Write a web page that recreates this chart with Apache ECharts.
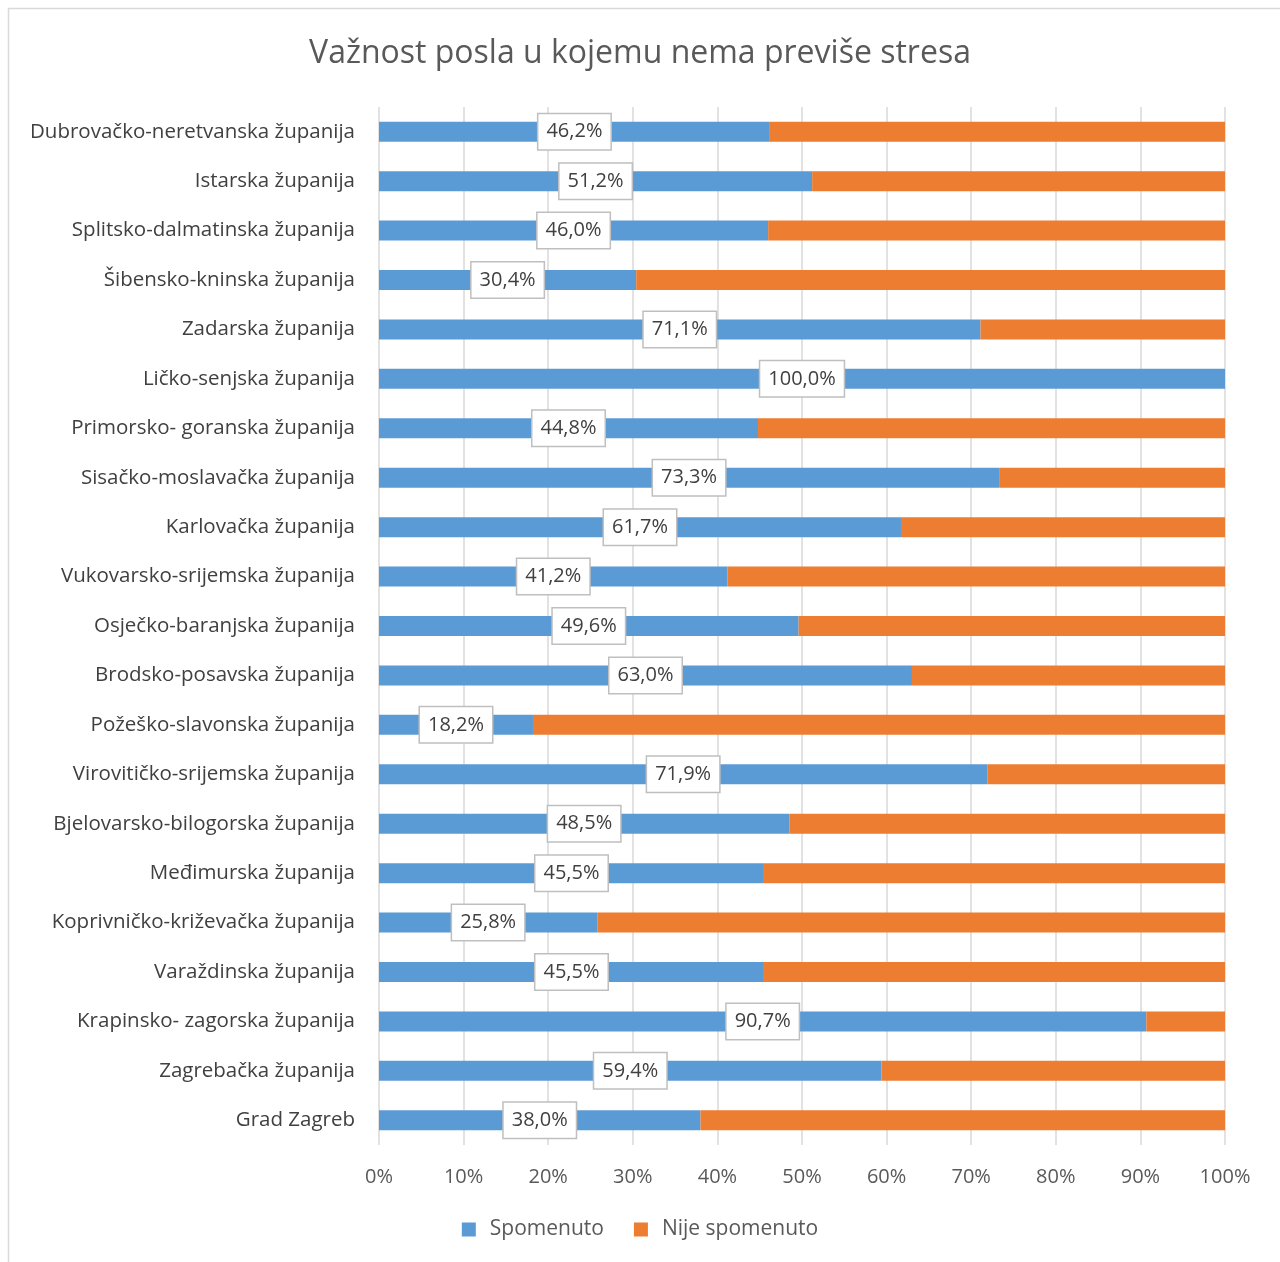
<!DOCTYPE html>
<html><head><meta charset="utf-8">
<script src="https://cdn.jsdelivr.net/npm/echarts@6/dist/echarts.min.js"></script>
<style>html,body{margin:0;padding:0;background:#fff}#c{width:1280px;height:1262px}</style>
</head><body><div id="c"></div>
<script>
const categories = [
  "Dubrovačko-neretvanska županija","Istarska županija","Splitsko-dalmatinska županija",
  "Šibensko-kninska županija","Zadarska županija","Ličko-senjska županija",
  "Primorsko- goranska županija","Sisačko-moslavačka županija","Karlovačka županija",
  "Vukovarsko-srijemska županija","Osječko-baranjska županija","Brodsko-posavska županija",
  "Požeško-slavonska županija","Virovitičko-srijemska županija","Bjelovarsko-bilogorska županija",
  "Međimurska županija","Koprivničko-križevačka županija","Varaždinska županija",
  "Krapinsko- zagorska županija","Zagrebačka županija","Grad Zagreb"
];
const spomenuto = [46.2,51.2,46.0,30.4,71.1,100.0,44.8,73.3,61.7,41.2,49.6,63.0,18.2,71.9,48.5,45.5,25.8,45.5,90.7,59.4,38.0];
const nijeSpomenuto = [53.8,48.8,54.0,69.6,28.9,0.0,55.2,26.7,38.3,58.8,50.4,37.0,81.8,28.1,51.5,54.5,74.2,54.5,9.3,40.6,62.0];
const xTicks = [0,10,20,30,40,50,60,70,80,90,100];

const FONT = "'Open Sans', 'Noto Sans', sans-serif";
const chart = echarts.init(document.getElementById('c'));
chart.setOption({
  animation: false,
  graphic: [{type:'rect', shape:{x:8.5,y:8.5,width:1300,height:1300}, style:{fill:'none',stroke:'#d9d9d9',lineWidth:1.5}, silent:true, z:-10}],
  title: {text:'Važnost posla u kojemu nema previše stresa', left:'center', top:33,
    textStyle:{fontFamily:FONT, fontSize:32, fontWeight:'normal', color:'#595959'}},
  legend: {bottom:17, left:'center', itemWidth:14, itemHeight:14, itemGap:30, icon:'rect',
    textStyle:{fontFamily:FONT, fontSize:21, color:'#595959', padding:[0,0,0,9]},
    data:['Spomenuto','Nije spomenuto']},
  grid: {left:379, right:55, top:107, bottom:117, containLabel:false},
  xAxis: {type:'value', min:0, max:100, interval:10,
    axisLine:{show:false}, axisTick:{show:false},
    splitLine:{lineStyle:{color:'#d9d9d9', width:1.5}},
    axisLabel:{formatter:v=>v+'%', fontFamily:FONT, fontSize:20, color:'#595959', margin:22}},
  yAxis: {type:'category', data:categories, inverse:true,
    axisLine:{show:false}, axisTick:{show:false},
    axisLabel:{fontFamily:FONT, fontSize:20.5, color:'#404040', margin:24}},
  series: [
    {name:'Spomenuto', type:'bar', stack:'a', data:spomenuto, barWidth:20,
      itemStyle:{color:'#5B9BD5'},
      label:{show:true, position:'inside', formatter:p=>p.value.toFixed(1).replace('.',',')+'%',
        fontFamily:FONT, fontSize:20, lineHeight:22, color:'#404040', backgroundColor:'#fff',
        borderColor:'#bfbfbf', borderWidth:1.5, padding:[7,8,6,8]}},
    {name:'Nije spomenuto', type:'bar', stack:'a', data:nijeSpomenuto, barWidth:20,
      itemStyle:{color:'#ED7D31'}}
  ]
});
</script></body></html>
